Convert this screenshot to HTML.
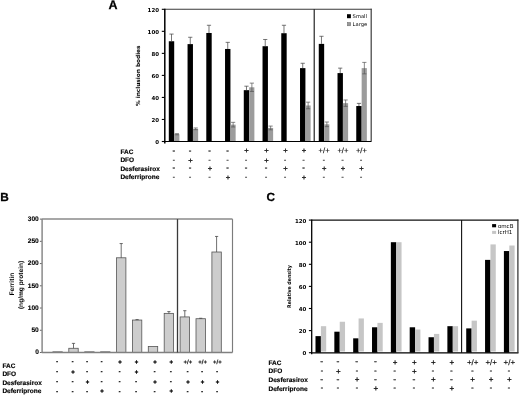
<!DOCTYPE html>
<html lang="en">
<head>
<meta charset="utf-8">
<title>Figure</title>
<style>
html,body{margin:0;padding:0;background:#fff;}
body{width:520px;height:396px;overflow:hidden;}
svg{display:block;}
text{text-rendering:geometricPrecision;}
</style>
</head>
<body>
<svg width="520" height="396" viewBox="0 0 520 396">
<rect x="0" y="0" width="520" height="396" fill="#fff"/>
<g id="panelA">
<text x="108.60" y="9.45" font-family='"Liberation Sans", sans-serif' font-size="12.5" font-weight="bold" text-anchor="start" fill="#000" stroke="#000" stroke-width="0.25">A</text>
<rect x="168.80" y="41.25" width="5.40" height="100.25" fill="#000"/>
<line x1="171.50" y1="34.09" x2="171.50" y2="41.25" stroke="#4a4a4a" stroke-width="0.75"/>
<line x1="169.40" y1="34.09" x2="173.60" y2="34.09" stroke="#4a4a4a" stroke-width="0.75"/>
<rect x="174.20" y="134.23" width="5.20" height="7.27" fill="#9c9c9c"/>
<line x1="176.90" y1="133.68" x2="176.90" y2="134.78" stroke="#555" stroke-width="0.7"/>
<line x1="174.80" y1="133.68" x2="179.00" y2="133.68" stroke="#555" stroke-width="0.7"/>
<line x1="174.80" y1="134.78" x2="179.00" y2="134.78" stroke="#555" stroke-width="0.7"/>
<rect x="187.55" y="44.11" width="5.40" height="97.39" fill="#000"/>
<line x1="190.25" y1="37.28" x2="190.25" y2="44.11" stroke="#4a4a4a" stroke-width="0.75"/>
<line x1="188.15" y1="37.28" x2="192.35" y2="37.28" stroke="#4a4a4a" stroke-width="0.75"/>
<rect x="192.95" y="128.83" width="5.20" height="12.67" fill="#9c9c9c"/>
<line x1="195.65" y1="127.95" x2="195.65" y2="129.71" stroke="#555" stroke-width="0.7"/>
<line x1="193.55" y1="127.95" x2="197.75" y2="127.95" stroke="#555" stroke-width="0.7"/>
<line x1="193.55" y1="129.71" x2="197.75" y2="129.71" stroke="#555" stroke-width="0.7"/>
<rect x="206.29" y="32.99" width="5.40" height="108.51" fill="#000"/>
<line x1="208.99" y1="25.27" x2="208.99" y2="32.99" stroke="#4a4a4a" stroke-width="0.75"/>
<line x1="206.89" y1="25.27" x2="211.09" y2="25.27" stroke="#4a4a4a" stroke-width="0.75"/>
<rect x="211.69" y="140.95" width="5.20" height="0.55" fill="#9c9c9c"/>
<rect x="225.04" y="48.96" width="5.40" height="92.54" fill="#000"/>
<line x1="227.74" y1="42.35" x2="227.74" y2="48.96" stroke="#4a4a4a" stroke-width="0.75"/>
<line x1="225.64" y1="42.35" x2="229.84" y2="42.35" stroke="#4a4a4a" stroke-width="0.75"/>
<rect x="230.44" y="124.64" width="5.20" height="16.86" fill="#9c9c9c"/>
<line x1="233.14" y1="122.33" x2="233.14" y2="126.96" stroke="#555" stroke-width="0.7"/>
<line x1="231.04" y1="122.33" x2="235.24" y2="122.33" stroke="#555" stroke-width="0.7"/>
<line x1="231.04" y1="126.96" x2="235.24" y2="126.96" stroke="#555" stroke-width="0.7"/>
<rect x="243.78" y="90.16" width="5.40" height="51.34" fill="#000"/>
<line x1="246.48" y1="86.20" x2="246.48" y2="90.16" stroke="#4a4a4a" stroke-width="0.75"/>
<line x1="244.38" y1="86.20" x2="248.58" y2="86.20" stroke="#4a4a4a" stroke-width="0.75"/>
<rect x="249.18" y="87.30" width="5.20" height="54.20" fill="#9c9c9c"/>
<line x1="251.88" y1="83.11" x2="251.88" y2="91.48" stroke="#555" stroke-width="0.7"/>
<line x1="249.78" y1="83.11" x2="253.98" y2="83.11" stroke="#555" stroke-width="0.7"/>
<line x1="249.78" y1="91.48" x2="253.98" y2="91.48" stroke="#555" stroke-width="0.7"/>
<rect x="262.53" y="46.21" width="5.40" height="95.29" fill="#000"/>
<line x1="265.23" y1="39.49" x2="265.23" y2="46.21" stroke="#4a4a4a" stroke-width="0.75"/>
<line x1="263.13" y1="39.49" x2="267.33" y2="39.49" stroke="#4a4a4a" stroke-width="0.75"/>
<rect x="267.93" y="127.95" width="5.20" height="13.55" fill="#9c9c9c"/>
<line x1="270.63" y1="126.08" x2="270.63" y2="129.82" stroke="#555" stroke-width="0.7"/>
<line x1="268.53" y1="126.08" x2="272.73" y2="126.08" stroke="#555" stroke-width="0.7"/>
<line x1="268.53" y1="129.82" x2="272.73" y2="129.82" stroke="#555" stroke-width="0.7"/>
<rect x="281.27" y="33.21" width="5.40" height="108.29" fill="#000"/>
<line x1="283.97" y1="25.27" x2="283.97" y2="33.21" stroke="#4a4a4a" stroke-width="0.75"/>
<line x1="281.87" y1="25.27" x2="286.07" y2="25.27" stroke="#4a4a4a" stroke-width="0.75"/>
<rect x="286.67" y="140.95" width="5.20" height="0.55" fill="#9c9c9c"/>
<rect x="300.02" y="68.13" width="5.40" height="73.37" fill="#000"/>
<line x1="302.72" y1="63.28" x2="302.72" y2="68.13" stroke="#4a4a4a" stroke-width="0.75"/>
<line x1="300.62" y1="63.28" x2="304.82" y2="63.28" stroke="#4a4a4a" stroke-width="0.75"/>
<rect x="305.42" y="105.48" width="5.20" height="36.02" fill="#9c9c9c"/>
<line x1="308.12" y1="102.17" x2="308.12" y2="108.78" stroke="#555" stroke-width="0.7"/>
<line x1="306.02" y1="102.17" x2="310.22" y2="102.17" stroke="#555" stroke-width="0.7"/>
<line x1="306.02" y1="108.78" x2="310.22" y2="108.78" stroke="#555" stroke-width="0.7"/>
<rect x="318.76" y="43.89" width="5.40" height="97.61" fill="#000"/>
<line x1="321.46" y1="36.29" x2="321.46" y2="43.89" stroke="#4a4a4a" stroke-width="0.75"/>
<line x1="319.36" y1="36.29" x2="323.56" y2="36.29" stroke="#4a4a4a" stroke-width="0.75"/>
<rect x="324.16" y="124.31" width="5.20" height="17.19" fill="#9c9c9c"/>
<line x1="326.86" y1="122.00" x2="326.86" y2="126.63" stroke="#555" stroke-width="0.7"/>
<line x1="324.76" y1="122.00" x2="328.96" y2="122.00" stroke="#555" stroke-width="0.7"/>
<line x1="324.76" y1="126.63" x2="328.96" y2="126.63" stroke="#555" stroke-width="0.7"/>
<rect x="337.51" y="73.09" width="5.40" height="68.41" fill="#000"/>
<line x1="340.21" y1="68.13" x2="340.21" y2="73.09" stroke="#4a4a4a" stroke-width="0.75"/>
<line x1="338.11" y1="68.13" x2="342.31" y2="68.13" stroke="#4a4a4a" stroke-width="0.75"/>
<rect x="342.91" y="103.16" width="5.20" height="38.34" fill="#9c9c9c"/>
<line x1="345.61" y1="99.97" x2="345.61" y2="106.36" stroke="#555" stroke-width="0.7"/>
<line x1="343.51" y1="99.97" x2="347.71" y2="99.97" stroke="#555" stroke-width="0.7"/>
<line x1="343.51" y1="106.36" x2="347.71" y2="106.36" stroke="#555" stroke-width="0.7"/>
<rect x="356.25" y="106.03" width="5.40" height="35.47" fill="#000"/>
<line x1="358.95" y1="103.38" x2="358.95" y2="106.03" stroke="#4a4a4a" stroke-width="0.75"/>
<line x1="356.85" y1="103.38" x2="361.05" y2="103.38" stroke="#4a4a4a" stroke-width="0.75"/>
<rect x="361.65" y="68.13" width="5.20" height="73.37" fill="#9c9c9c"/>
<line x1="364.35" y1="62.40" x2="364.35" y2="73.86" stroke="#555" stroke-width="0.7"/>
<line x1="362.25" y1="62.40" x2="366.45" y2="62.40" stroke="#555" stroke-width="0.7"/>
<line x1="362.25" y1="73.86" x2="366.45" y2="73.86" stroke="#555" stroke-width="0.7"/>
<line x1="164.60" y1="9.20" x2="371.70" y2="9.20" stroke="#3a3a3a" stroke-width="1.1"/>
<line x1="371.20" y1="8.70" x2="371.20" y2="141.50" stroke="#444" stroke-width="1.25"/>
<line x1="314.20" y1="9.30" x2="314.20" y2="141.50" stroke="#111" stroke-width="1.1"/>
<line x1="164.80" y1="8.80" x2="164.80" y2="143.50" stroke="#000" stroke-width="1.5"/>
<line x1="163.90" y1="141.50" x2="371.40" y2="141.50" stroke="#000" stroke-width="1.0"/>
<line x1="161.80" y1="141.50" x2="164.60" y2="141.50" stroke="#000" stroke-width="1.1"/>
<text x="159.00" y="143.75" font-family='"DejaVu Sans", "Liberation Sans", sans-serif' font-size="5.4" font-weight="bold" text-anchor="end" fill="#000" textLength="3.8" lengthAdjust="spacingAndGlyphs">0</text>
<line x1="161.80" y1="119.47" x2="164.60" y2="119.47" stroke="#000" stroke-width="1.1"/>
<text x="159.00" y="121.72" font-family='"DejaVu Sans", "Liberation Sans", sans-serif' font-size="5.4" font-weight="bold" text-anchor="end" fill="#000" textLength="7.6" lengthAdjust="spacingAndGlyphs">20</text>
<line x1="161.80" y1="97.43" x2="164.60" y2="97.43" stroke="#000" stroke-width="1.1"/>
<text x="159.00" y="99.68" font-family='"DejaVu Sans", "Liberation Sans", sans-serif' font-size="5.4" font-weight="bold" text-anchor="end" fill="#000" textLength="7.6" lengthAdjust="spacingAndGlyphs">40</text>
<line x1="161.80" y1="75.40" x2="164.60" y2="75.40" stroke="#000" stroke-width="1.1"/>
<text x="159.00" y="77.65" font-family='"DejaVu Sans", "Liberation Sans", sans-serif' font-size="5.4" font-weight="bold" text-anchor="end" fill="#000" textLength="7.6" lengthAdjust="spacingAndGlyphs">60</text>
<line x1="161.80" y1="53.37" x2="164.60" y2="53.37" stroke="#000" stroke-width="1.1"/>
<text x="159.00" y="55.62" font-family='"DejaVu Sans", "Liberation Sans", sans-serif' font-size="5.4" font-weight="bold" text-anchor="end" fill="#000" textLength="7.6" lengthAdjust="spacingAndGlyphs">80</text>
<line x1="161.80" y1="31.33" x2="164.60" y2="31.33" stroke="#000" stroke-width="1.1"/>
<text x="159.00" y="33.58" font-family='"DejaVu Sans", "Liberation Sans", sans-serif' font-size="5.4" font-weight="bold" text-anchor="end" fill="#000" textLength="11.4" lengthAdjust="spacingAndGlyphs">100</text>
<line x1="161.80" y1="9.30" x2="164.60" y2="9.30" stroke="#000" stroke-width="1.1"/>
<text x="159.00" y="11.55" font-family='"DejaVu Sans", "Liberation Sans", sans-serif' font-size="5.4" font-weight="bold" text-anchor="end" fill="#000" textLength="11.4" lengthAdjust="spacingAndGlyphs">120</text>
<text transform="translate(140.1,75.8) rotate(-90)" font-family='"DejaVu Sans", "Liberation Sans", sans-serif' font-size="5.6" font-weight="bold" text-anchor="middle" textLength="60.6" lengthAdjust="spacingAndGlyphs">% inclusion bodies</text>
<rect x="347.00" y="14.20" width="3.90" height="4.00" fill="#000"/>
<text x="352.60" y="18.00" font-family='"DejaVu Sans", "Liberation Sans", sans-serif' font-size="5.2" font-weight="normal" text-anchor="start" fill="#000">Small</text>
<rect x="347.40" y="22.50" width="3.30" height="3.30" fill="#999" stroke="#666" stroke-width="0.5"/>
<text x="352.60" y="26.20" font-family='"DejaVu Sans", "Liberation Sans", sans-serif' font-size="5.2" font-weight="normal" text-anchor="start" fill="#000">Large</text>
<text x="120.40" y="153.80" font-family='"Liberation Sans", sans-serif' font-size="6.5" font-weight="bold" text-anchor="start" fill="#000" stroke="#000" stroke-width="0.15">FAC</text>
<text x="120.40" y="162.10" font-family='"Liberation Sans", sans-serif' font-size="6.5" font-weight="bold" text-anchor="start" fill="#000" stroke="#000" stroke-width="0.15">DFO</text>
<text x="120.40" y="170.60" font-family='"Liberation Sans", sans-serif' font-size="6.5" font-weight="bold" text-anchor="start" fill="#000" stroke="#000" stroke-width="0.15">Desferasirox</text>
<text x="120.40" y="179.00" font-family='"Liberation Sans", sans-serif' font-size="6.5" font-weight="bold" text-anchor="start" fill="#000" stroke="#000" stroke-width="0.15">Deferriprone</text>
<text x="173.80" y="152.53" font-family='"Liberation Sans", sans-serif' font-size="7.8" font-weight="normal" text-anchor="middle" fill="#222" stroke="#222" stroke-width="0.3">-</text>
<text x="190.00" y="152.53" font-family='"Liberation Sans", sans-serif' font-size="7.8" font-weight="normal" text-anchor="middle" fill="#222" stroke="#222" stroke-width="0.3">-</text>
<text x="209.50" y="152.53" font-family='"Liberation Sans", sans-serif' font-size="7.8" font-weight="normal" text-anchor="middle" fill="#222" stroke="#222" stroke-width="0.3">-</text>
<text x="227.50" y="152.53" font-family='"Liberation Sans", sans-serif' font-size="7.8" font-weight="normal" text-anchor="middle" fill="#222" stroke="#222" stroke-width="0.3">-</text>
<text x="246.40" y="153.16" font-family='"Liberation Sans", sans-serif' font-size="7.6" font-weight="normal" text-anchor="middle" fill="#111" stroke="#111" stroke-width="0.3">+</text>
<text x="266.40" y="153.16" font-family='"Liberation Sans", sans-serif' font-size="7.6" font-weight="normal" text-anchor="middle" fill="#111" stroke="#111" stroke-width="0.3">+</text>
<text x="285.40" y="153.16" font-family='"Liberation Sans", sans-serif' font-size="7.6" font-weight="normal" text-anchor="middle" fill="#111" stroke="#111" stroke-width="0.3">+</text>
<text x="303.90" y="153.16" font-family='"Liberation Sans", sans-serif' font-size="7.6" font-weight="normal" text-anchor="middle" fill="#111" stroke="#111" stroke-width="0.3">+</text>
<text x="324.10" y="153.16" font-family='"Liberation Sans", sans-serif' font-size="7.6" font-weight="normal" text-anchor="middle" fill="#111" stroke="#111" stroke-width="0.15">+/+</text>
<text x="342.90" y="153.16" font-family='"Liberation Sans", sans-serif' font-size="7.6" font-weight="normal" text-anchor="middle" fill="#111" stroke="#111" stroke-width="0.15">+/+</text>
<text x="361.40" y="153.16" font-family='"Liberation Sans", sans-serif' font-size="7.6" font-weight="normal" text-anchor="middle" fill="#111" stroke="#111" stroke-width="0.15">+/+</text>
<text x="173.80" y="161.86" font-family='"Liberation Sans", sans-serif' font-size="6.4" font-weight="bold" text-anchor="middle" fill="#555" stroke="#555" stroke-width="0.3">-</text>
<text x="190.40" y="162.86" font-family='"Liberation Sans", sans-serif' font-size="7.6" font-weight="normal" text-anchor="middle" fill="#111" stroke="#111" stroke-width="0.3">+</text>
<text x="209.50" y="161.86" font-family='"Liberation Sans", sans-serif' font-size="6.4" font-weight="bold" text-anchor="middle" fill="#555" stroke="#555" stroke-width="0.3">-</text>
<text x="227.50" y="161.86" font-family='"Liberation Sans", sans-serif' font-size="6.4" font-weight="bold" text-anchor="middle" fill="#555" stroke="#555" stroke-width="0.3">-</text>
<text x="246.00" y="161.86" font-family='"Liberation Sans", sans-serif' font-size="6.4" font-weight="bold" text-anchor="middle" fill="#555" stroke="#555" stroke-width="0.3">-</text>
<text x="266.40" y="162.86" font-family='"Liberation Sans", sans-serif' font-size="7.6" font-weight="normal" text-anchor="middle" fill="#111" stroke="#111" stroke-width="0.3">+</text>
<text x="285.00" y="161.86" font-family='"Liberation Sans", sans-serif' font-size="6.4" font-weight="bold" text-anchor="middle" fill="#555" stroke="#555" stroke-width="0.3">-</text>
<text x="303.50" y="161.86" font-family='"Liberation Sans", sans-serif' font-size="6.4" font-weight="bold" text-anchor="middle" fill="#555" stroke="#555" stroke-width="0.3">-</text>
<text x="323.70" y="161.86" font-family='"Liberation Sans", sans-serif' font-size="6.4" font-weight="bold" text-anchor="middle" fill="#555" stroke="#555" stroke-width="0.3">-</text>
<text x="342.50" y="161.86" font-family='"Liberation Sans", sans-serif' font-size="6.4" font-weight="bold" text-anchor="middle" fill="#555" stroke="#555" stroke-width="0.3">-</text>
<text x="361.00" y="161.86" font-family='"Liberation Sans", sans-serif' font-size="6.4" font-weight="bold" text-anchor="middle" fill="#555" stroke="#555" stroke-width="0.3">-</text>
<text x="173.80" y="170.43" font-family='"Liberation Sans", sans-serif' font-size="7.8" font-weight="normal" text-anchor="middle" fill="#222" stroke="#222" stroke-width="0.3">-</text>
<text x="190.00" y="170.43" font-family='"Liberation Sans", sans-serif' font-size="7.8" font-weight="normal" text-anchor="middle" fill="#222" stroke="#222" stroke-width="0.3">-</text>
<text x="209.90" y="171.06" font-family='"Liberation Sans", sans-serif' font-size="7.6" font-weight="normal" text-anchor="middle" fill="#111" stroke="#111" stroke-width="0.3">+</text>
<text x="227.50" y="170.43" font-family='"Liberation Sans", sans-serif' font-size="7.8" font-weight="normal" text-anchor="middle" fill="#222" stroke="#222" stroke-width="0.3">-</text>
<text x="246.00" y="170.43" font-family='"Liberation Sans", sans-serif' font-size="7.8" font-weight="normal" text-anchor="middle" fill="#222" stroke="#222" stroke-width="0.3">-</text>
<text x="266.00" y="170.43" font-family='"Liberation Sans", sans-serif' font-size="7.8" font-weight="normal" text-anchor="middle" fill="#222" stroke="#222" stroke-width="0.3">-</text>
<text x="285.40" y="171.06" font-family='"Liberation Sans", sans-serif' font-size="7.6" font-weight="normal" text-anchor="middle" fill="#111" stroke="#111" stroke-width="0.3">+</text>
<text x="303.50" y="170.43" font-family='"Liberation Sans", sans-serif' font-size="7.8" font-weight="normal" text-anchor="middle" fill="#222" stroke="#222" stroke-width="0.3">-</text>
<text x="324.10" y="171.06" font-family='"Liberation Sans", sans-serif' font-size="7.6" font-weight="normal" text-anchor="middle" fill="#111" stroke="#111" stroke-width="0.3">+</text>
<text x="342.90" y="171.06" font-family='"Liberation Sans", sans-serif' font-size="7.6" font-weight="normal" text-anchor="middle" fill="#111" stroke="#111" stroke-width="0.3">+</text>
<text x="361.40" y="171.06" font-family='"Liberation Sans", sans-serif' font-size="7.6" font-weight="normal" text-anchor="middle" fill="#111" stroke="#111" stroke-width="0.3">+</text>
<text x="173.80" y="178.66" font-family='"Liberation Sans", sans-serif' font-size="6.4" font-weight="bold" text-anchor="middle" fill="#555" stroke="#555" stroke-width="0.3">-</text>
<text x="190.00" y="178.66" font-family='"Liberation Sans", sans-serif' font-size="6.4" font-weight="bold" text-anchor="middle" fill="#555" stroke="#555" stroke-width="0.3">-</text>
<text x="209.50" y="178.66" font-family='"Liberation Sans", sans-serif' font-size="6.4" font-weight="bold" text-anchor="middle" fill="#555" stroke="#555" stroke-width="0.3">-</text>
<text x="227.90" y="179.66" font-family='"Liberation Sans", sans-serif' font-size="7.6" font-weight="normal" text-anchor="middle" fill="#111" stroke="#111" stroke-width="0.3">+</text>
<text x="246.00" y="178.66" font-family='"Liberation Sans", sans-serif' font-size="6.4" font-weight="bold" text-anchor="middle" fill="#555" stroke="#555" stroke-width="0.3">-</text>
<text x="266.00" y="178.66" font-family='"Liberation Sans", sans-serif' font-size="6.4" font-weight="bold" text-anchor="middle" fill="#555" stroke="#555" stroke-width="0.3">-</text>
<text x="285.00" y="178.66" font-family='"Liberation Sans", sans-serif' font-size="6.4" font-weight="bold" text-anchor="middle" fill="#555" stroke="#555" stroke-width="0.3">-</text>
<text x="303.90" y="179.66" font-family='"Liberation Sans", sans-serif' font-size="7.6" font-weight="normal" text-anchor="middle" fill="#111" stroke="#111" stroke-width="0.3">+</text>
<text x="323.70" y="178.66" font-family='"Liberation Sans", sans-serif' font-size="6.4" font-weight="bold" text-anchor="middle" fill="#555" stroke="#555" stroke-width="0.3">-</text>
<text x="342.50" y="178.66" font-family='"Liberation Sans", sans-serif' font-size="6.4" font-weight="bold" text-anchor="middle" fill="#555" stroke="#555" stroke-width="0.3">-</text>
<text x="361.00" y="178.66" font-family='"Liberation Sans", sans-serif' font-size="6.4" font-weight="bold" text-anchor="middle" fill="#555" stroke="#555" stroke-width="0.3">-</text>
</g>
<g id="panelB">
<text x="0.20" y="200.70" font-family='"Liberation Sans", sans-serif' font-size="11.8" font-weight="bold" text-anchor="start" fill="#000" stroke="#000" stroke-width="0.25">B</text>
<rect x="52.90" y="351.83" width="9.40" height="0.67" fill="#cdcdcd" stroke="#555" stroke-width="0.8"/>
<rect x="68.80" y="348.28" width="9.40" height="4.22" fill="#cdcdcd" stroke="#555" stroke-width="0.8"/>
<line x1="73.50" y1="343.38" x2="73.50" y2="348.28" stroke="#4a4a4a" stroke-width="0.8"/>
<line x1="71.90" y1="343.38" x2="75.10" y2="343.38" stroke="#4a4a4a" stroke-width="0.8"/>
<rect x="84.70" y="351.83" width="9.40" height="0.67" fill="#cdcdcd" stroke="#555" stroke-width="0.8"/>
<rect x="100.60" y="351.83" width="9.40" height="0.67" fill="#cdcdcd" stroke="#555" stroke-width="0.8"/>
<rect x="116.50" y="257.79" width="9.40" height="94.71" fill="#cdcdcd" stroke="#555" stroke-width="0.8"/>
<line x1="121.20" y1="243.56" x2="121.20" y2="257.79" stroke="#4a4a4a" stroke-width="0.8"/>
<line x1="119.60" y1="243.56" x2="122.80" y2="243.56" stroke="#4a4a4a" stroke-width="0.8"/>
<rect x="132.40" y="320.04" width="9.40" height="32.46" fill="#cdcdcd" stroke="#555" stroke-width="0.8"/>
<line x1="137.10" y1="319.59" x2="137.10" y2="320.04" stroke="#4a4a4a" stroke-width="0.8"/>
<line x1="135.50" y1="319.59" x2="138.70" y2="319.59" stroke="#4a4a4a" stroke-width="0.8"/>
<rect x="148.30" y="346.50" width="9.40" height="6.00" fill="#cdcdcd" stroke="#555" stroke-width="0.8"/>
<rect x="164.20" y="313.37" width="9.40" height="39.13" fill="#cdcdcd" stroke="#555" stroke-width="0.8"/>
<line x1="168.90" y1="311.59" x2="168.90" y2="313.37" stroke="#4a4a4a" stroke-width="0.8"/>
<line x1="167.30" y1="311.59" x2="170.50" y2="311.59" stroke="#4a4a4a" stroke-width="0.8"/>
<rect x="180.10" y="316.93" width="9.40" height="35.57" fill="#cdcdcd" stroke="#555" stroke-width="0.8"/>
<line x1="184.80" y1="310.70" x2="184.80" y2="316.93" stroke="#4a4a4a" stroke-width="0.8"/>
<line x1="183.20" y1="310.70" x2="186.40" y2="310.70" stroke="#4a4a4a" stroke-width="0.8"/>
<rect x="196.00" y="318.71" width="9.40" height="33.79" fill="#cdcdcd" stroke="#555" stroke-width="0.8"/>
<line x1="200.70" y1="318.26" x2="200.70" y2="318.71" stroke="#4a4a4a" stroke-width="0.8"/>
<line x1="199.10" y1="318.26" x2="202.30" y2="318.26" stroke="#4a4a4a" stroke-width="0.8"/>
<rect x="211.90" y="252.01" width="9.40" height="100.49" fill="#cdcdcd" stroke="#555" stroke-width="0.8"/>
<line x1="216.60" y1="236.44" x2="216.60" y2="252.01" stroke="#4a4a4a" stroke-width="0.8"/>
<line x1="215.00" y1="236.44" x2="218.20" y2="236.44" stroke="#4a4a4a" stroke-width="0.8"/>
<line x1="41.70" y1="219.10" x2="232.50" y2="219.10" stroke="#8a8a8a" stroke-width="1.5"/>
<line x1="232.50" y1="219.10" x2="232.50" y2="352.50" stroke="#7c7c7c" stroke-width="1.15"/>
<line x1="42.10" y1="219.10" x2="42.10" y2="352.50" stroke="#868686" stroke-width="1.45"/>
<line x1="41.70" y1="352.50" x2="232.50" y2="352.50" stroke="#808080" stroke-width="1.5"/>
<line x1="177.50" y1="219.10" x2="177.50" y2="352.50" stroke="#3a3a3a" stroke-width="1.3"/>
<line x1="39.90" y1="352.50" x2="41.70" y2="352.50" stroke="#666" stroke-width="1.0"/>
<text x="38.80" y="354.40" font-family='"Liberation Sans", sans-serif' font-size="6.6" font-weight="bold" text-anchor="end" fill="#000" stroke="#000" stroke-width="0.12">0</text>
<line x1="39.90" y1="330.27" x2="41.70" y2="330.27" stroke="#666" stroke-width="1.0"/>
<text x="38.80" y="332.17" font-family='"Liberation Sans", sans-serif' font-size="6.6" font-weight="bold" text-anchor="end" fill="#000" stroke="#000" stroke-width="0.12">50</text>
<line x1="39.90" y1="308.03" x2="41.70" y2="308.03" stroke="#666" stroke-width="1.0"/>
<text x="38.80" y="309.93" font-family='"Liberation Sans", sans-serif' font-size="6.6" font-weight="bold" text-anchor="end" fill="#000" stroke="#000" stroke-width="0.12">100</text>
<line x1="39.90" y1="285.80" x2="41.70" y2="285.80" stroke="#666" stroke-width="1.0"/>
<text x="38.80" y="287.70" font-family='"Liberation Sans", sans-serif' font-size="6.6" font-weight="bold" text-anchor="end" fill="#000" stroke="#000" stroke-width="0.12">150</text>
<line x1="39.90" y1="263.57" x2="41.70" y2="263.57" stroke="#666" stroke-width="1.0"/>
<text x="38.80" y="265.47" font-family='"Liberation Sans", sans-serif' font-size="6.6" font-weight="bold" text-anchor="end" fill="#000" stroke="#000" stroke-width="0.12">200</text>
<line x1="39.90" y1="241.33" x2="41.70" y2="241.33" stroke="#666" stroke-width="1.0"/>
<text x="38.80" y="243.23" font-family='"Liberation Sans", sans-serif' font-size="6.6" font-weight="bold" text-anchor="end" fill="#000" stroke="#000" stroke-width="0.12">250</text>
<line x1="39.90" y1="219.10" x2="41.70" y2="219.10" stroke="#666" stroke-width="1.0"/>
<text x="38.80" y="221.00" font-family='"Liberation Sans", sans-serif' font-size="6.6" font-weight="bold" text-anchor="end" fill="#000" stroke="#000" stroke-width="0.12">300</text>
<text transform="translate(14.4,284.1) rotate(-90)" font-family='"Liberation Sans", sans-serif' font-size="6.6" font-weight="bold" text-anchor="middle">Ferritin</text>
<text transform="translate(22.6,284.9) rotate(-90)" font-family='"Liberation Sans", sans-serif' font-size="6.6" font-weight="bold" text-anchor="middle">(ng/mg protein)</text>
<text x="2.40" y="368.00" font-family='"Liberation Sans", sans-serif' font-size="6.5" font-weight="bold" text-anchor="start" fill="#000" stroke="#000" stroke-width="0.15">FAC</text>
<text x="2.40" y="376.30" font-family='"Liberation Sans", sans-serif' font-size="6.5" font-weight="bold" text-anchor="start" fill="#000" stroke="#000" stroke-width="0.15">DFO</text>
<text x="2.40" y="384.70" font-family='"Liberation Sans", sans-serif' font-size="6.5" font-weight="bold" text-anchor="start" fill="#000" stroke="#000" stroke-width="0.15">Desferasirox</text>
<text x="2.40" y="393.00" font-family='"Liberation Sans", sans-serif' font-size="6.5" font-weight="bold" text-anchor="start" fill="#000" stroke="#000" stroke-width="0.15">Deferriprone</text>
<text x="57.00" y="363.30" font-family='"Liberation Sans", sans-serif' font-size="5.0" font-weight="bold" text-anchor="middle" fill="#111" stroke="#111" stroke-width="0.5">-</text>
<text x="72.70" y="363.30" font-family='"Liberation Sans", sans-serif' font-size="5.0" font-weight="bold" text-anchor="middle" fill="#111" stroke="#111" stroke-width="0.5">-</text>
<text x="87.10" y="363.30" font-family='"Liberation Sans", sans-serif' font-size="5.0" font-weight="bold" text-anchor="middle" fill="#111" stroke="#111" stroke-width="0.5">-</text>
<text x="101.50" y="363.30" font-family='"Liberation Sans", sans-serif' font-size="5.0" font-weight="bold" text-anchor="middle" fill="#111" stroke="#111" stroke-width="0.5">-</text>
<text x="119.90" y="364.10" font-family='"Liberation Sans", sans-serif' font-size="6.0" font-weight="normal" text-anchor="middle" fill="#111" stroke="#111" stroke-width="0.5">+</text>
<text x="136.60" y="364.10" font-family='"Liberation Sans", sans-serif' font-size="6.0" font-weight="normal" text-anchor="middle" fill="#111" stroke="#111" stroke-width="0.5">+</text>
<text x="154.90" y="364.10" font-family='"Liberation Sans", sans-serif' font-size="6.0" font-weight="normal" text-anchor="middle" fill="#111" stroke="#111" stroke-width="0.5">+</text>
<text x="171.20" y="364.10" font-family='"Liberation Sans", sans-serif' font-size="6.0" font-weight="normal" text-anchor="middle" fill="#111" stroke="#111" stroke-width="0.5">+</text>
<text x="187.90" y="364.10" font-family='"Liberation Sans", sans-serif' font-size="6.0" font-weight="normal" text-anchor="middle" fill="#111" stroke="#111" stroke-width="0.25">+/+</text>
<text x="202.60" y="364.10" font-family='"Liberation Sans", sans-serif' font-size="6.0" font-weight="normal" text-anchor="middle" fill="#111" stroke="#111" stroke-width="0.25">+/+</text>
<text x="217.40" y="364.10" font-family='"Liberation Sans", sans-serif' font-size="6.0" font-weight="normal" text-anchor="middle" fill="#111" stroke="#111" stroke-width="0.25">+/+</text>
<text x="57.00" y="373.00" font-family='"Liberation Sans", sans-serif' font-size="5.0" font-weight="bold" text-anchor="middle" fill="#111" stroke="#111" stroke-width="0.5">-</text>
<text x="73.10" y="373.80" font-family='"Liberation Sans", sans-serif' font-size="6.0" font-weight="normal" text-anchor="middle" fill="#111" stroke="#111" stroke-width="0.5">+</text>
<text x="87.10" y="373.00" font-family='"Liberation Sans", sans-serif' font-size="5.0" font-weight="bold" text-anchor="middle" fill="#111" stroke="#111" stroke-width="0.5">-</text>
<text x="101.50" y="373.00" font-family='"Liberation Sans", sans-serif' font-size="5.0" font-weight="bold" text-anchor="middle" fill="#111" stroke="#111" stroke-width="0.5">-</text>
<text x="119.50" y="373.00" font-family='"Liberation Sans", sans-serif' font-size="5.0" font-weight="bold" text-anchor="middle" fill="#111" stroke="#111" stroke-width="0.5">-</text>
<text x="136.60" y="373.80" font-family='"Liberation Sans", sans-serif' font-size="6.0" font-weight="normal" text-anchor="middle" fill="#111" stroke="#111" stroke-width="0.5">+</text>
<text x="154.50" y="373.00" font-family='"Liberation Sans", sans-serif' font-size="5.0" font-weight="bold" text-anchor="middle" fill="#111" stroke="#111" stroke-width="0.5">-</text>
<text x="170.80" y="373.00" font-family='"Liberation Sans", sans-serif' font-size="5.0" font-weight="bold" text-anchor="middle" fill="#111" stroke="#111" stroke-width="0.5">-</text>
<text x="187.50" y="373.00" font-family='"Liberation Sans", sans-serif' font-size="5.0" font-weight="bold" text-anchor="middle" fill="#111" stroke="#111" stroke-width="0.5">-</text>
<text x="202.20" y="373.00" font-family='"Liberation Sans", sans-serif' font-size="5.0" font-weight="bold" text-anchor="middle" fill="#111" stroke="#111" stroke-width="0.5">-</text>
<text x="217.00" y="373.00" font-family='"Liberation Sans", sans-serif' font-size="5.0" font-weight="bold" text-anchor="middle" fill="#111" stroke="#111" stroke-width="0.5">-</text>
<text x="57.00" y="382.70" font-family='"Liberation Sans", sans-serif' font-size="5.0" font-weight="bold" text-anchor="middle" fill="#111" stroke="#111" stroke-width="0.5">-</text>
<text x="72.70" y="382.70" font-family='"Liberation Sans", sans-serif' font-size="5.0" font-weight="bold" text-anchor="middle" fill="#111" stroke="#111" stroke-width="0.5">-</text>
<text x="87.50" y="383.50" font-family='"Liberation Sans", sans-serif' font-size="6.0" font-weight="normal" text-anchor="middle" fill="#111" stroke="#111" stroke-width="0.5">+</text>
<text x="101.50" y="382.70" font-family='"Liberation Sans", sans-serif' font-size="5.0" font-weight="bold" text-anchor="middle" fill="#111" stroke="#111" stroke-width="0.5">-</text>
<text x="119.50" y="382.70" font-family='"Liberation Sans", sans-serif' font-size="5.0" font-weight="bold" text-anchor="middle" fill="#111" stroke="#111" stroke-width="0.5">-</text>
<text x="136.20" y="382.70" font-family='"Liberation Sans", sans-serif' font-size="5.0" font-weight="bold" text-anchor="middle" fill="#111" stroke="#111" stroke-width="0.5">-</text>
<text x="154.90" y="383.50" font-family='"Liberation Sans", sans-serif' font-size="6.0" font-weight="normal" text-anchor="middle" fill="#111" stroke="#111" stroke-width="0.5">+</text>
<text x="170.80" y="382.70" font-family='"Liberation Sans", sans-serif' font-size="5.0" font-weight="bold" text-anchor="middle" fill="#111" stroke="#111" stroke-width="0.5">-</text>
<text x="187.90" y="383.50" font-family='"Liberation Sans", sans-serif' font-size="6.0" font-weight="normal" text-anchor="middle" fill="#111" stroke="#111" stroke-width="0.5">+</text>
<text x="202.60" y="383.50" font-family='"Liberation Sans", sans-serif' font-size="6.0" font-weight="normal" text-anchor="middle" fill="#111" stroke="#111" stroke-width="0.5">+</text>
<text x="217.40" y="383.50" font-family='"Liberation Sans", sans-serif' font-size="6.0" font-weight="normal" text-anchor="middle" fill="#111" stroke="#111" stroke-width="0.5">+</text>
<text x="57.00" y="392.50" font-family='"Liberation Sans", sans-serif' font-size="5.0" font-weight="bold" text-anchor="middle" fill="#111" stroke="#111" stroke-width="0.5">-</text>
<text x="72.70" y="392.50" font-family='"Liberation Sans", sans-serif' font-size="5.0" font-weight="bold" text-anchor="middle" fill="#111" stroke="#111" stroke-width="0.5">-</text>
<text x="87.10" y="392.50" font-family='"Liberation Sans", sans-serif' font-size="5.0" font-weight="bold" text-anchor="middle" fill="#111" stroke="#111" stroke-width="0.5">-</text>
<text x="101.90" y="393.30" font-family='"Liberation Sans", sans-serif' font-size="6.0" font-weight="normal" text-anchor="middle" fill="#111" stroke="#111" stroke-width="0.5">+</text>
<text x="119.50" y="392.50" font-family='"Liberation Sans", sans-serif' font-size="5.0" font-weight="bold" text-anchor="middle" fill="#111" stroke="#111" stroke-width="0.5">-</text>
<text x="136.20" y="392.50" font-family='"Liberation Sans", sans-serif' font-size="5.0" font-weight="bold" text-anchor="middle" fill="#111" stroke="#111" stroke-width="0.5">-</text>
<text x="154.50" y="392.50" font-family='"Liberation Sans", sans-serif' font-size="5.0" font-weight="bold" text-anchor="middle" fill="#111" stroke="#111" stroke-width="0.5">-</text>
<text x="171.20" y="393.30" font-family='"Liberation Sans", sans-serif' font-size="6.0" font-weight="normal" text-anchor="middle" fill="#111" stroke="#111" stroke-width="0.5">+</text>
<text x="187.50" y="392.50" font-family='"Liberation Sans", sans-serif' font-size="5.0" font-weight="bold" text-anchor="middle" fill="#111" stroke="#111" stroke-width="0.5">-</text>
<text x="202.20" y="392.50" font-family='"Liberation Sans", sans-serif' font-size="5.0" font-weight="bold" text-anchor="middle" fill="#111" stroke="#111" stroke-width="0.5">-</text>
<text x="217.00" y="392.50" font-family='"Liberation Sans", sans-serif' font-size="5.0" font-weight="bold" text-anchor="middle" fill="#111" stroke="#111" stroke-width="0.5">-</text>
</g>
<g id="panelC">
<text x="266.50" y="200.80" font-family='"Liberation Sans", sans-serif' font-size="11.8" font-weight="bold" text-anchor="start" fill="#000" stroke="#000" stroke-width="0.25">C</text>
<rect x="315.50" y="336.12" width="5.40" height="16.57" fill="#000"/>
<rect x="320.90" y="326.18" width="5.30" height="25.32" fill="#c6c6c6"/>
<rect x="334.34" y="331.70" width="5.40" height="21.00" fill="#000"/>
<rect x="339.74" y="321.76" width="5.30" height="29.74" fill="#c6c6c6"/>
<rect x="353.18" y="338.33" width="5.40" height="14.37" fill="#000"/>
<rect x="358.58" y="318.44" width="5.30" height="33.05" fill="#c6c6c6"/>
<rect x="372.02" y="327.28" width="5.40" height="25.41" fill="#000"/>
<rect x="377.42" y="322.87" width="5.30" height="28.64" fill="#c6c6c6"/>
<rect x="390.86" y="242.20" width="5.40" height="110.50" fill="#000"/>
<rect x="396.26" y="242.20" width="5.30" height="109.30" fill="#c6c6c6"/>
<rect x="409.70" y="327.28" width="5.40" height="25.41" fill="#000"/>
<rect x="415.10" y="329.50" width="5.30" height="22.00" fill="#c6c6c6"/>
<rect x="428.54" y="337.23" width="5.40" height="15.47" fill="#000"/>
<rect x="433.94" y="333.91" width="5.30" height="17.59" fill="#c6c6c6"/>
<rect x="447.38" y="326.18" width="5.40" height="26.52" fill="#000"/>
<rect x="452.78" y="326.18" width="5.30" height="25.32" fill="#c6c6c6"/>
<rect x="466.22" y="328.39" width="5.40" height="24.31" fill="#000"/>
<rect x="471.62" y="320.65" width="5.30" height="30.85" fill="#c6c6c6"/>
<rect x="485.06" y="259.88" width="5.40" height="92.82" fill="#000"/>
<rect x="490.46" y="244.41" width="5.30" height="107.09" fill="#c6c6c6"/>
<rect x="503.90" y="251.04" width="5.40" height="101.66" fill="#000"/>
<rect x="509.30" y="245.51" width="5.30" height="105.98" fill="#c6c6c6"/>
<line x1="311.70" y1="220.10" x2="518.40" y2="220.10" stroke="#111" stroke-width="1.05"/>
<line x1="461.60" y1="220.10" x2="461.60" y2="352.70" stroke="#111" stroke-width="1.1"/>
<line x1="311.70" y1="219.60" x2="311.70" y2="354.30" stroke="#000" stroke-width="1.3"/>
<line x1="311.00" y1="352.80" x2="518.50" y2="352.80" stroke="#000" stroke-width="1.3"/>
<line x1="517.90" y1="219.60" x2="517.90" y2="352.70" stroke="#2a2a2a" stroke-width="1.2"/>
<line x1="308.90" y1="352.70" x2="311.70" y2="352.70" stroke="#000" stroke-width="1.1"/>
<text x="306.30" y="355.10" font-family='"DejaVu Sans", "Liberation Sans", sans-serif' font-size="5.4" font-weight="bold" text-anchor="end" fill="#000" textLength="3.8" lengthAdjust="spacingAndGlyphs">0</text>
<line x1="308.90" y1="330.60" x2="311.70" y2="330.60" stroke="#000" stroke-width="1.1"/>
<text x="306.30" y="333.00" font-family='"DejaVu Sans", "Liberation Sans", sans-serif' font-size="5.4" font-weight="bold" text-anchor="end" fill="#000" textLength="7.6" lengthAdjust="spacingAndGlyphs">20</text>
<line x1="308.90" y1="308.50" x2="311.70" y2="308.50" stroke="#000" stroke-width="1.1"/>
<text x="306.30" y="310.90" font-family='"DejaVu Sans", "Liberation Sans", sans-serif' font-size="5.4" font-weight="bold" text-anchor="end" fill="#000" textLength="7.6" lengthAdjust="spacingAndGlyphs">40</text>
<line x1="308.90" y1="286.40" x2="311.70" y2="286.40" stroke="#000" stroke-width="1.1"/>
<text x="306.30" y="288.80" font-family='"DejaVu Sans", "Liberation Sans", sans-serif' font-size="5.4" font-weight="bold" text-anchor="end" fill="#000" textLength="7.6" lengthAdjust="spacingAndGlyphs">60</text>
<line x1="308.90" y1="264.30" x2="311.70" y2="264.30" stroke="#000" stroke-width="1.1"/>
<text x="306.30" y="266.70" font-family='"DejaVu Sans", "Liberation Sans", sans-serif' font-size="5.4" font-weight="bold" text-anchor="end" fill="#000" textLength="7.6" lengthAdjust="spacingAndGlyphs">80</text>
<line x1="308.90" y1="242.20" x2="311.70" y2="242.20" stroke="#000" stroke-width="1.1"/>
<text x="306.30" y="244.60" font-family='"DejaVu Sans", "Liberation Sans", sans-serif' font-size="5.4" font-weight="bold" text-anchor="end" fill="#000" textLength="11.4" lengthAdjust="spacingAndGlyphs">100</text>
<line x1="308.90" y1="220.10" x2="311.70" y2="220.10" stroke="#000" stroke-width="1.1"/>
<text x="306.30" y="222.50" font-family='"DejaVu Sans", "Liberation Sans", sans-serif' font-size="5.4" font-weight="bold" text-anchor="end" fill="#000" textLength="11.4" lengthAdjust="spacingAndGlyphs">120</text>
<text transform="translate(290.6,286.5) rotate(-90)" font-family='"DejaVu Sans", "Liberation Sans", sans-serif' font-size="5.2" font-weight="bold" text-anchor="middle" textLength="42.8" lengthAdjust="spacingAndGlyphs">Relative density</text>
<rect x="492.10" y="224.10" width="4.00" height="3.20" fill="#000"/>
<text x="497.90" y="227.50" font-family='"DejaVu Sans", "Liberation Sans", sans-serif' font-size="5.5" font-weight="normal" text-anchor="start" fill="#000">omcB</text>
<rect x="492.10" y="230.90" width="4.00" height="3.00" fill="#c6c6c6"/>
<text x="497.90" y="234.20" font-family='"DejaVu Sans", "Liberation Sans", sans-serif' font-size="5.5" font-weight="normal" text-anchor="start" fill="#000">lcrH1</text>
<text x="268.50" y="364.50" font-family='"Liberation Sans", sans-serif' font-size="6.5" font-weight="bold" text-anchor="start" fill="#000" stroke="#000" stroke-width="0.15">FAC</text>
<text x="268.50" y="373.20" font-family='"Liberation Sans", sans-serif' font-size="6.5" font-weight="bold" text-anchor="start" fill="#000" stroke="#000" stroke-width="0.15">DFO</text>
<text x="268.50" y="382.00" font-family='"Liberation Sans", sans-serif' font-size="6.5" font-weight="bold" text-anchor="start" fill="#000" stroke="#000" stroke-width="0.15">Desferasirox</text>
<text x="268.50" y="390.80" font-family='"Liberation Sans", sans-serif' font-size="6.5" font-weight="bold" text-anchor="start" fill="#000" stroke="#000" stroke-width="0.15">Deferriprone</text>
<text x="321.80" y="364.04" font-family='"Liberation Sans", sans-serif' font-size="8.6" font-weight="normal" text-anchor="middle" fill="#222" stroke="#222" stroke-width="0.3">-</text>
<text x="338.00" y="364.04" font-family='"Liberation Sans", sans-serif' font-size="8.6" font-weight="normal" text-anchor="middle" fill="#222" stroke="#222" stroke-width="0.3">-</text>
<text x="356.80" y="364.04" font-family='"Liberation Sans", sans-serif' font-size="8.6" font-weight="normal" text-anchor="middle" fill="#222" stroke="#222" stroke-width="0.3">-</text>
<text x="375.40" y="364.04" font-family='"Liberation Sans", sans-serif' font-size="8.6" font-weight="normal" text-anchor="middle" fill="#222" stroke="#222" stroke-width="0.3">-</text>
<text x="395.00" y="364.60" font-family='"Liberation Sans", sans-serif' font-size="8.0" font-weight="normal" text-anchor="middle" fill="#111" stroke="#111" stroke-width="0.3">+</text>
<text x="414.40" y="364.60" font-family='"Liberation Sans", sans-serif' font-size="8.0" font-weight="normal" text-anchor="middle" fill="#111" stroke="#111" stroke-width="0.3">+</text>
<text x="433.40" y="364.60" font-family='"Liberation Sans", sans-serif' font-size="8.0" font-weight="normal" text-anchor="middle" fill="#111" stroke="#111" stroke-width="0.3">+</text>
<text x="451.90" y="364.60" font-family='"Liberation Sans", sans-serif' font-size="8.0" font-weight="normal" text-anchor="middle" fill="#111" stroke="#111" stroke-width="0.3">+</text>
<text x="472.70" y="364.60" font-family='"Liberation Sans", sans-serif' font-size="8.0" font-weight="normal" text-anchor="middle" fill="#111" stroke="#111" stroke-width="0.15">+/+</text>
<text x="491.20" y="364.60" font-family='"Liberation Sans", sans-serif' font-size="8.0" font-weight="normal" text-anchor="middle" fill="#111" stroke="#111" stroke-width="0.15">+/+</text>
<text x="509.40" y="364.60" font-family='"Liberation Sans", sans-serif' font-size="8.0" font-weight="normal" text-anchor="middle" fill="#111" stroke="#111" stroke-width="0.15">+/+</text>
<text x="321.80" y="372.62" font-family='"Liberation Sans", sans-serif' font-size="7.0" font-weight="bold" text-anchor="middle" fill="#555" stroke="#555" stroke-width="0.3">-</text>
<text x="338.40" y="373.60" font-family='"Liberation Sans", sans-serif' font-size="8.0" font-weight="normal" text-anchor="middle" fill="#111" stroke="#111" stroke-width="0.3">+</text>
<text x="356.80" y="372.62" font-family='"Liberation Sans", sans-serif' font-size="7.0" font-weight="bold" text-anchor="middle" fill="#555" stroke="#555" stroke-width="0.3">-</text>
<text x="375.40" y="372.62" font-family='"Liberation Sans", sans-serif' font-size="7.0" font-weight="bold" text-anchor="middle" fill="#555" stroke="#555" stroke-width="0.3">-</text>
<text x="394.60" y="372.62" font-family='"Liberation Sans", sans-serif' font-size="7.0" font-weight="bold" text-anchor="middle" fill="#555" stroke="#555" stroke-width="0.3">-</text>
<text x="414.40" y="373.60" font-family='"Liberation Sans", sans-serif' font-size="8.0" font-weight="normal" text-anchor="middle" fill="#111" stroke="#111" stroke-width="0.3">+</text>
<text x="433.00" y="372.62" font-family='"Liberation Sans", sans-serif' font-size="7.0" font-weight="bold" text-anchor="middle" fill="#555" stroke="#555" stroke-width="0.3">-</text>
<text x="451.50" y="372.62" font-family='"Liberation Sans", sans-serif' font-size="7.0" font-weight="bold" text-anchor="middle" fill="#555" stroke="#555" stroke-width="0.3">-</text>
<text x="472.30" y="372.62" font-family='"Liberation Sans", sans-serif' font-size="7.0" font-weight="bold" text-anchor="middle" fill="#555" stroke="#555" stroke-width="0.3">-</text>
<text x="490.80" y="372.62" font-family='"Liberation Sans", sans-serif' font-size="7.0" font-weight="bold" text-anchor="middle" fill="#555" stroke="#555" stroke-width="0.3">-</text>
<text x="509.00" y="372.62" font-family='"Liberation Sans", sans-serif' font-size="7.0" font-weight="bold" text-anchor="middle" fill="#555" stroke="#555" stroke-width="0.3">-</text>
<text x="321.80" y="381.64" font-family='"Liberation Sans", sans-serif' font-size="8.6" font-weight="normal" text-anchor="middle" fill="#222" stroke="#222" stroke-width="0.3">-</text>
<text x="338.00" y="381.64" font-family='"Liberation Sans", sans-serif' font-size="8.6" font-weight="normal" text-anchor="middle" fill="#222" stroke="#222" stroke-width="0.3">-</text>
<text x="357.20" y="382.20" font-family='"Liberation Sans", sans-serif' font-size="8.0" font-weight="normal" text-anchor="middle" fill="#111" stroke="#111" stroke-width="0.3">+</text>
<text x="375.40" y="381.64" font-family='"Liberation Sans", sans-serif' font-size="8.6" font-weight="normal" text-anchor="middle" fill="#222" stroke="#222" stroke-width="0.3">-</text>
<text x="394.60" y="381.64" font-family='"Liberation Sans", sans-serif' font-size="8.6" font-weight="normal" text-anchor="middle" fill="#222" stroke="#222" stroke-width="0.3">-</text>
<text x="414.00" y="381.64" font-family='"Liberation Sans", sans-serif' font-size="8.6" font-weight="normal" text-anchor="middle" fill="#222" stroke="#222" stroke-width="0.3">-</text>
<text x="433.40" y="382.20" font-family='"Liberation Sans", sans-serif' font-size="8.0" font-weight="normal" text-anchor="middle" fill="#111" stroke="#111" stroke-width="0.3">+</text>
<text x="451.50" y="381.64" font-family='"Liberation Sans", sans-serif' font-size="8.6" font-weight="normal" text-anchor="middle" fill="#222" stroke="#222" stroke-width="0.3">-</text>
<text x="472.70" y="382.20" font-family='"Liberation Sans", sans-serif' font-size="8.0" font-weight="normal" text-anchor="middle" fill="#111" stroke="#111" stroke-width="0.3">+</text>
<text x="491.20" y="382.20" font-family='"Liberation Sans", sans-serif' font-size="8.0" font-weight="normal" text-anchor="middle" fill="#111" stroke="#111" stroke-width="0.3">+</text>
<text x="509.40" y="382.20" font-family='"Liberation Sans", sans-serif' font-size="8.0" font-weight="normal" text-anchor="middle" fill="#111" stroke="#111" stroke-width="0.3">+</text>
<text x="321.80" y="390.02" font-family='"Liberation Sans", sans-serif' font-size="7.0" font-weight="bold" text-anchor="middle" fill="#555" stroke="#555" stroke-width="0.3">-</text>
<text x="338.00" y="390.02" font-family='"Liberation Sans", sans-serif' font-size="7.0" font-weight="bold" text-anchor="middle" fill="#555" stroke="#555" stroke-width="0.3">-</text>
<text x="356.80" y="390.02" font-family='"Liberation Sans", sans-serif' font-size="7.0" font-weight="bold" text-anchor="middle" fill="#555" stroke="#555" stroke-width="0.3">-</text>
<text x="375.80" y="391.00" font-family='"Liberation Sans", sans-serif' font-size="8.0" font-weight="normal" text-anchor="middle" fill="#111" stroke="#111" stroke-width="0.3">+</text>
<text x="394.60" y="390.02" font-family='"Liberation Sans", sans-serif' font-size="7.0" font-weight="bold" text-anchor="middle" fill="#555" stroke="#555" stroke-width="0.3">-</text>
<text x="414.00" y="390.02" font-family='"Liberation Sans", sans-serif' font-size="7.0" font-weight="bold" text-anchor="middle" fill="#555" stroke="#555" stroke-width="0.3">-</text>
<text x="433.00" y="390.02" font-family='"Liberation Sans", sans-serif' font-size="7.0" font-weight="bold" text-anchor="middle" fill="#555" stroke="#555" stroke-width="0.3">-</text>
<text x="451.90" y="391.00" font-family='"Liberation Sans", sans-serif' font-size="8.0" font-weight="normal" text-anchor="middle" fill="#111" stroke="#111" stroke-width="0.3">+</text>
<text x="472.30" y="390.02" font-family='"Liberation Sans", sans-serif' font-size="7.0" font-weight="bold" text-anchor="middle" fill="#555" stroke="#555" stroke-width="0.3">-</text>
<text x="490.80" y="390.02" font-family='"Liberation Sans", sans-serif' font-size="7.0" font-weight="bold" text-anchor="middle" fill="#555" stroke="#555" stroke-width="0.3">-</text>
<text x="509.00" y="390.02" font-family='"Liberation Sans", sans-serif' font-size="7.0" font-weight="bold" text-anchor="middle" fill="#555" stroke="#555" stroke-width="0.3">-</text>
</g>
</svg>
</body>
</html>
